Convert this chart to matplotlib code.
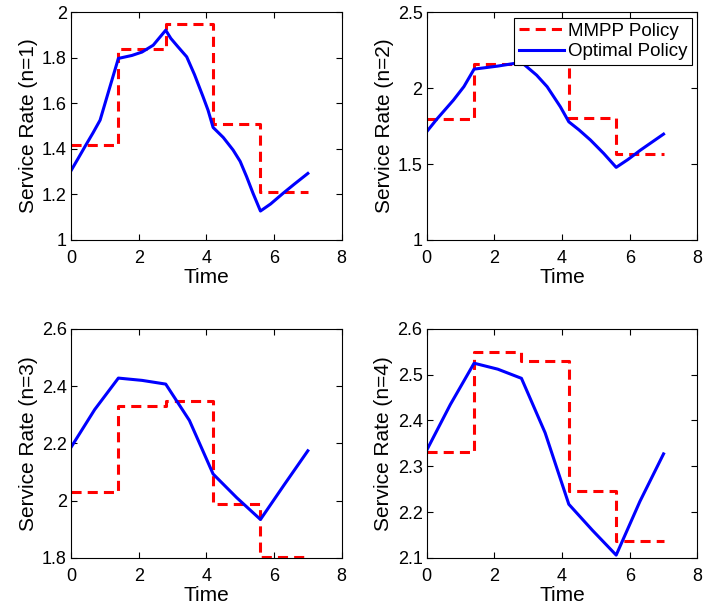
import numpy as np
import matplotlib
matplotlib.use("Agg")
import matplotlib.pyplot as plt

plt.rcParams['font.family'] = ['Liberation Sans', 'DejaVu Sans']

# switching epochs of the MMPP (step edges)
step_t = [0.0, 1.4, 2.8, 4.2, 5.6, 7.0]

# MMPP policy rate on each interval
mmpp_n1 = [1.417, 1.84, 1.95, 1.51, 1.21]
mmpp_n2 = [1.796, 2.158, 2.30, 1.805, 1.566]
mmpp_n3 = [2.03, 2.332, 2.349, 1.988, 1.803]
mmpp_n4 = [2.331, 2.549, 2.530, 2.247, 2.137]

# optimal policy, points
opt_t1 = [0.0, 0.2, 0.44, 0.65, 0.86, 1.15, 1.4, 1.8, 2.1, 2.43, 2.8, 2.95, 3.15, 3.42, 3.65,
          3.9, 4.05, 4.2, 4.5, 4.79, 5.0, 5.19, 5.38, 5.6, 5.9, 6.27, 6.6, 7.0]
opt_n1 = [1.304, 1.355, 1.417, 1.47, 1.526, 1.672, 1.797, 1.81, 1.825, 1.855, 1.921, 1.885,
          1.85, 1.804, 1.726, 1.63, 1.57, 1.494, 1.45, 1.395, 1.345, 1.278, 1.205, 1.127,
          1.158, 1.205, 1.245, 1.292]

opt_t2 = [0.0, 0.3, 0.79, 1.1, 1.4, 2.1, 2.8, 2.96, 3.25, 3.56, 3.95, 4.2, 4.5, 4.84,
          5.23, 5.6, 5.95, 6.32, 7.0]
opt_n2 = [1.713, 1.796, 1.921, 2.01, 2.125, 2.145, 2.17, 2.14, 2.085, 2.009, 1.877, 1.778,
          1.725, 1.658, 1.570, 1.478, 1.53, 1.592, 1.697]

opt_t34 = [0.0, 0.7, 1.4, 2.1, 2.8, 3.5, 4.2, 4.9, 5.6, 6.3, 7.0]
opt_n3 = [2.186, 2.318, 2.428, 2.42, 2.407, 2.28, 2.093, 2.01, 1.934, 2.055, 2.174]
opt_n4 = [2.335, 2.435, 2.525, 2.512, 2.492, 2.373, 2.217, 2.16, 2.106, 2.223, 2.327]

panels = [
    ("Service Rate (n=1)", mmpp_n1, opt_t1, opt_n1, (1, 2), [1, 1.2, 1.4, 1.6, 1.8, 2], ['1', '1.2', '1.4', '1.6', '1.8', '2']),
    ("Service Rate (n=2)", mmpp_n2, opt_t2, opt_n2, (1, 2.5), [1, 1.5, 2, 2.5], ['1', '1.5', '2', '2.5']),
    ("Service Rate (n=3)", mmpp_n3, opt_t34, opt_n3, (1.8, 2.6), [1.8, 2, 2.2, 2.4, 2.6], ['1.8', '2', '2.2', '2.4', '2.6']),
    ("Service Rate (n=4)", mmpp_n4, opt_t34, opt_n4, (2.1, 2.6), [2.1, 2.2, 2.3, 2.4, 2.5, 2.6], ['2.1', '2.2', '2.3', '2.4', '2.5', '2.6']),
]

fig = plt.figure(figsize=(7.03, 6.09), dpi=100)
rects = [
    [0.101, 0.606, 0.385, 0.374],
    [0.607, 0.606, 0.385, 0.374],
    [0.101, 0.084, 0.385, 0.376],
    [0.607, 0.084, 0.385, 0.376],
]

for i, (ylab, mmpp, ot, ov, ylim, yt, ytl) in enumerate(panels):
    ax = fig.add_axes(rects[i])
    ax.plot(step_t, mmpp + [mmpp[-1]], drawstyle='steps-post', color='red',
            linestyle=(0, (3.3, 2.0)), linewidth=2.2, label='MMPP Policy')
    ax.plot(ot, ov, color='blue', linewidth=2.2, label='Optimal Policy')
    ax.set_xlim(0, 8)
    ax.set_ylim(*ylim)
    ax.set_xticks([0, 2, 4, 6, 8])
    ax.set_yticks(yt)
    ax.set_yticklabels(ytl)
    ax.tick_params(direction='in', top=True, right=True, length=4, labelsize=13)
    ax.tick_params(axis='x', pad=7)
    ax.tick_params(axis='y', pad=3)
    ax.set_xlabel('Time', fontsize=15, labelpad=1)
    ax.set_ylabel(ylab, fontsize=15, labelpad=3)
    if i == 1:
        leg = ax.legend(loc='upper right', fontsize=13.5, frameon=True, fancybox=False,
                        handlelength=2.4, borderpad=0.25, labelspacing=0.2,
                        handletextpad=0.2, borderaxespad=0.3, framealpha=1)
        leg.get_frame().set_edgecolor('black')
        leg.get_frame().set_linewidth(0.8)

fig.savefig('out.png', dpi=100)
